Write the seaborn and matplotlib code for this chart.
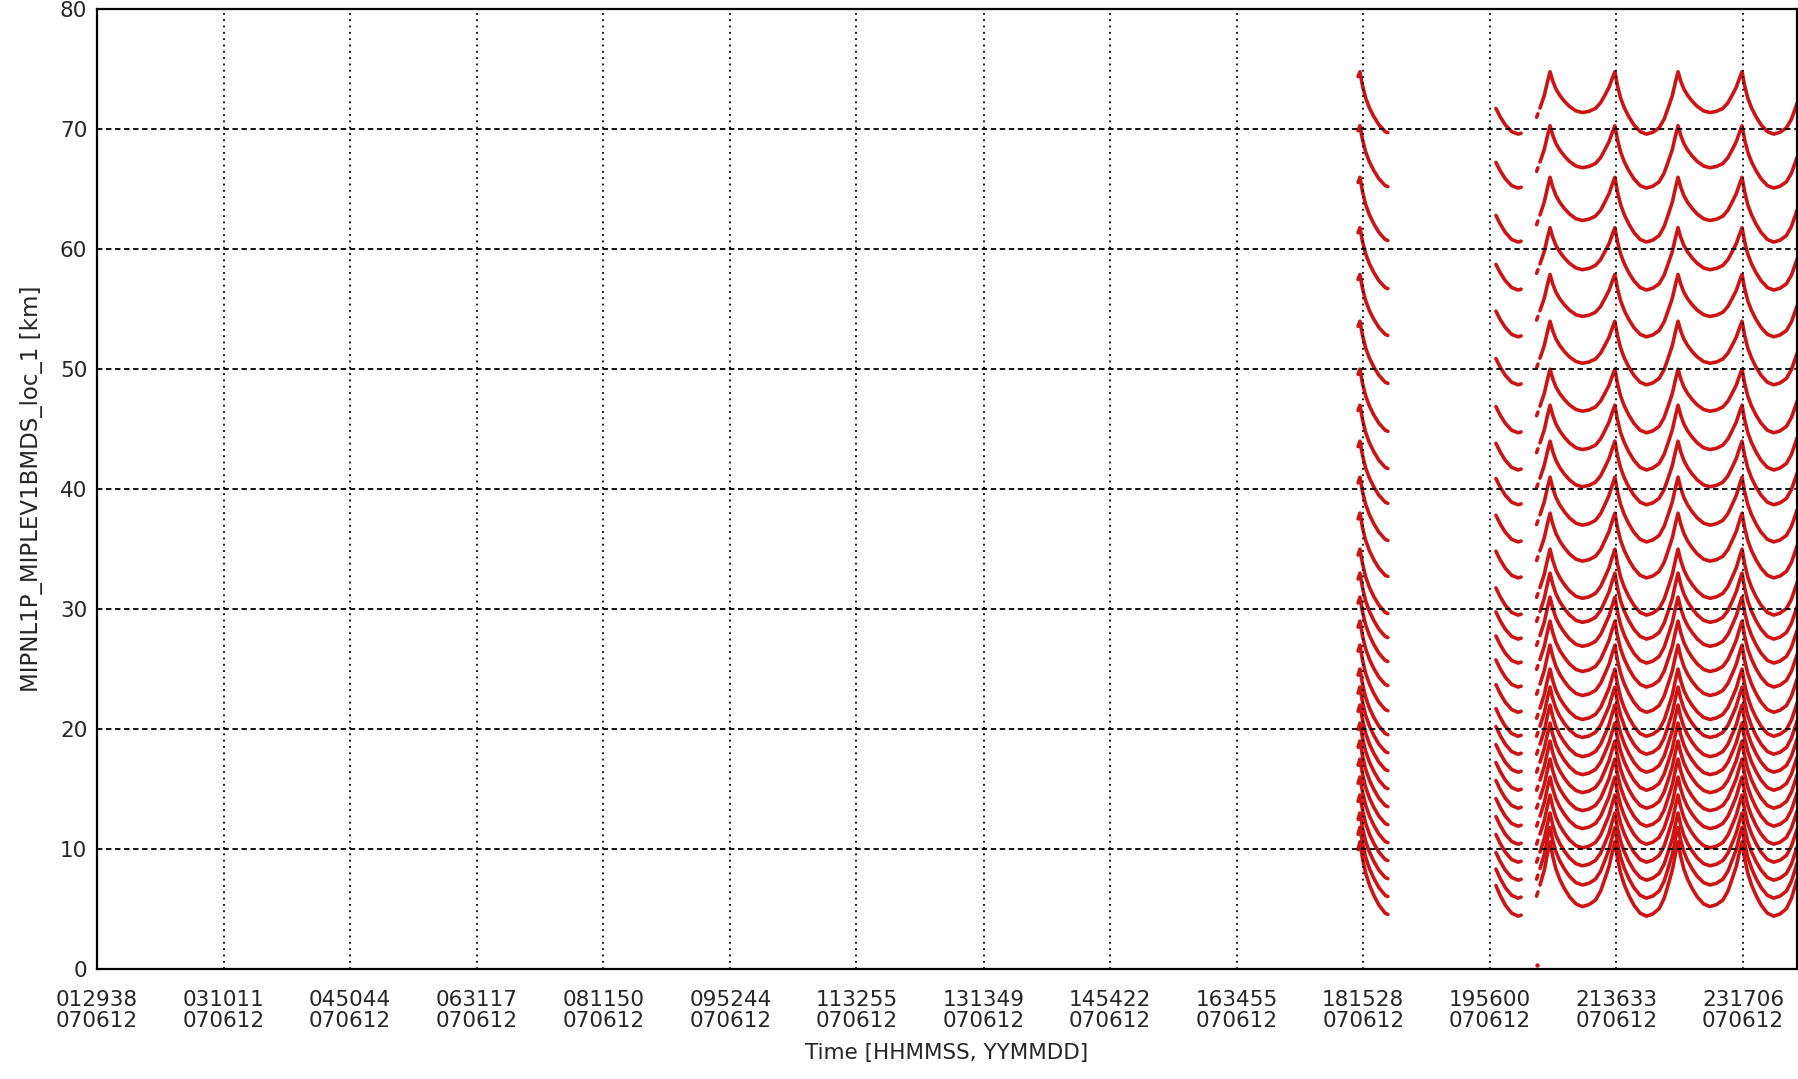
import numpy as np
import pandas as pd
import matplotlib
matplotlib.use('Agg')
import matplotlib.pyplot as plt
import seaborn as sns

sns.set_style('white')
plt.rcParams['font.family'] = ['DejaVu Sans']

# axis ticks (HHMMSS / YYMMDD), one orbit apart
tick_times = ['012938', '031011', '045044', '063117', '081150', '095244', '113255',
              '131349', '145422', '163455', '181528', '195600', '213633', '231706']
tick_dates = ['070612'] * 14

# tangent heights [km] of the 27 sweeps of a scan, read at the cusps and at the two kinds of trough
cusp_alt = [74.8, 70.3, 66.0, 61.8, 57.9, 54.0, 50.0, 47.0, 44.0, 41.0, 38.0, 35.0, 33.0, 31.0,
            29.0, 27.0, 25.0, 23.5, 22.0, 20.5, 19.0, 17.5, 16.0, 14.5, 13.0, 11.8, 10.6]
trough_a = [71.4, 66.8, 62.4, 58.3, 54.4, 50.5, 46.5, 43.3, 40.2, 37.0, 34.0, 30.9, 28.9, 26.9,
            24.8, 22.8, 20.8, 19.3, 17.7, 16.2, 14.7, 13.2, 11.7, 10.1, 8.6, 7.0, 5.2]
trough_b = [69.6, 65.1, 60.6, 56.6, 52.7, 48.7, 44.7, 41.6, 38.7, 35.6, 32.6, 29.5, 27.5, 25.5,
            23.5, 21.4, 19.4, 17.9, 16.4, 14.9, 13.4, 11.9, 10.4, 8.9, 7.4, 5.9, 4.4]

# cusp times [s of day] and the trough kind of the arc that follows each cusp
cusp_times = [62560, 65570, 68580, 71580, 74630, 77720, 80730, 83780, 86800]
arc_types = ['A', 'B', 'A', 'B', 'A', 'B', 'A', 'B']

# shape of one arc: fraction of arc time vs fraction of depth
shape_t = [0.0, 0.04, 0.09, 0.15, 0.22, 0.30, 0.40, 0.50, 0.60, 0.70, 0.78, 0.85, 0.91, 0.96, 1.0]
shape_f = [0.0, 0.22, 0.42, 0.58, 0.72, 0.85, 0.96, 1.0, 0.97, 0.90, 0.76, 0.56, 0.38, 0.16, 0.0]

# time windows [s] where data exist
windows = [(65480, 66900), (72050, 73250), (73990, 74050), (74150, 86400)]

stray_t = [74000]
stray_alt = [0.3]


def hms(s):
    return int(s[:2]) * 3600 + int(s[2:4]) * 60 + int(s[4:])


rows = []
for i in range(len(cusp_alt)):
    kt, ka = [], []
    for j in range(len(cusp_times) - 1):
        t0, t1 = cusp_times[j], cusp_times[j + 1]
        trough = trough_a if arc_types[j] == 'A' else trough_b
        for k in range(len(shape_t) - 1):
            kt.append(t0 + shape_t[k] * (t1 - t0))
            ka.append(cusp_alt[i] - shape_f[k] * (cusp_alt[i] - trough[i]))
    kt.append(cusp_times[-1])
    ka.append(cusp_alt[i])
    kt = np.array(kt)
    ka = np.array(ka)
    for s, (w0, w1) in enumerate(windows):
        inside = kt[(kt > w0) & (kt < w1)]
        ts = np.concatenate([[w0], inside, [w1]])
        alts = np.interp(ts, kt, ka)
        for t, a in zip(ts, alts):
            rows.append({'t': t, 'alt': a, 'curve': '%d-%d' % (s, i)})

df = pd.DataFrame(rows)

fig = plt.figure(figsize=(17.98, 10.79), dpi=100)
ax = fig.add_axes([0.05395, 0.102, 0.9455, 0.8893])

red = '#cc1414'
sns.lineplot(data=df, x='t', y='alt', units='curve', estimator=None, sort=False,
             color=red, lw=2.6, legend=False, ax=ax)
sns.scatterplot(x=stray_t, y=stray_alt, color=red, s=8, edgecolor=red, ax=ax)

fs = 15.5
tick_pos = [hms(s) for s in tick_times]
ax.set_xlim(tick_pos[0], 86400)
ax.set_ylim(0, 80)
ax.set_xticks(tick_pos)
ax.set_xticklabels(['%s\n%s' % (a, b) for a, b in zip(tick_times, tick_dates)], fontsize=fs)
for lab in ax.get_xticklabels():
    lab.set_linespacing(1.05)
ax.set_yticks(range(0, 81, 10))
ax.set_yticklabels([str(v) for v in range(0, 81, 10)], fontsize=fs)
ax.tick_params(axis='x', length=0, pad=15)
ax.tick_params(axis='y', length=0, pad=7)

ax.set_axisbelow(False)
ax.grid(axis='x', color='black', ls=(0, (1, 2.5)), lw=1.3)
ax.grid(axis='y', color='black', ls=(0, (3, 2)), lw=1.3)
for sp in ax.spines.values():
    sp.set_visible(True)
    sp.set_color('black')
    sp.set_linewidth(1.6)

ax.set_xlabel('Time [HHMMSS, YYMMDD]', fontsize=fs, labelpad=9)
ax.set_ylabel('MIPNL1P_MIPLEV1BMDS_loc_1 [km]', fontsize=16.5, labelpad=12)

fig.savefig('out.png', dpi=100)
